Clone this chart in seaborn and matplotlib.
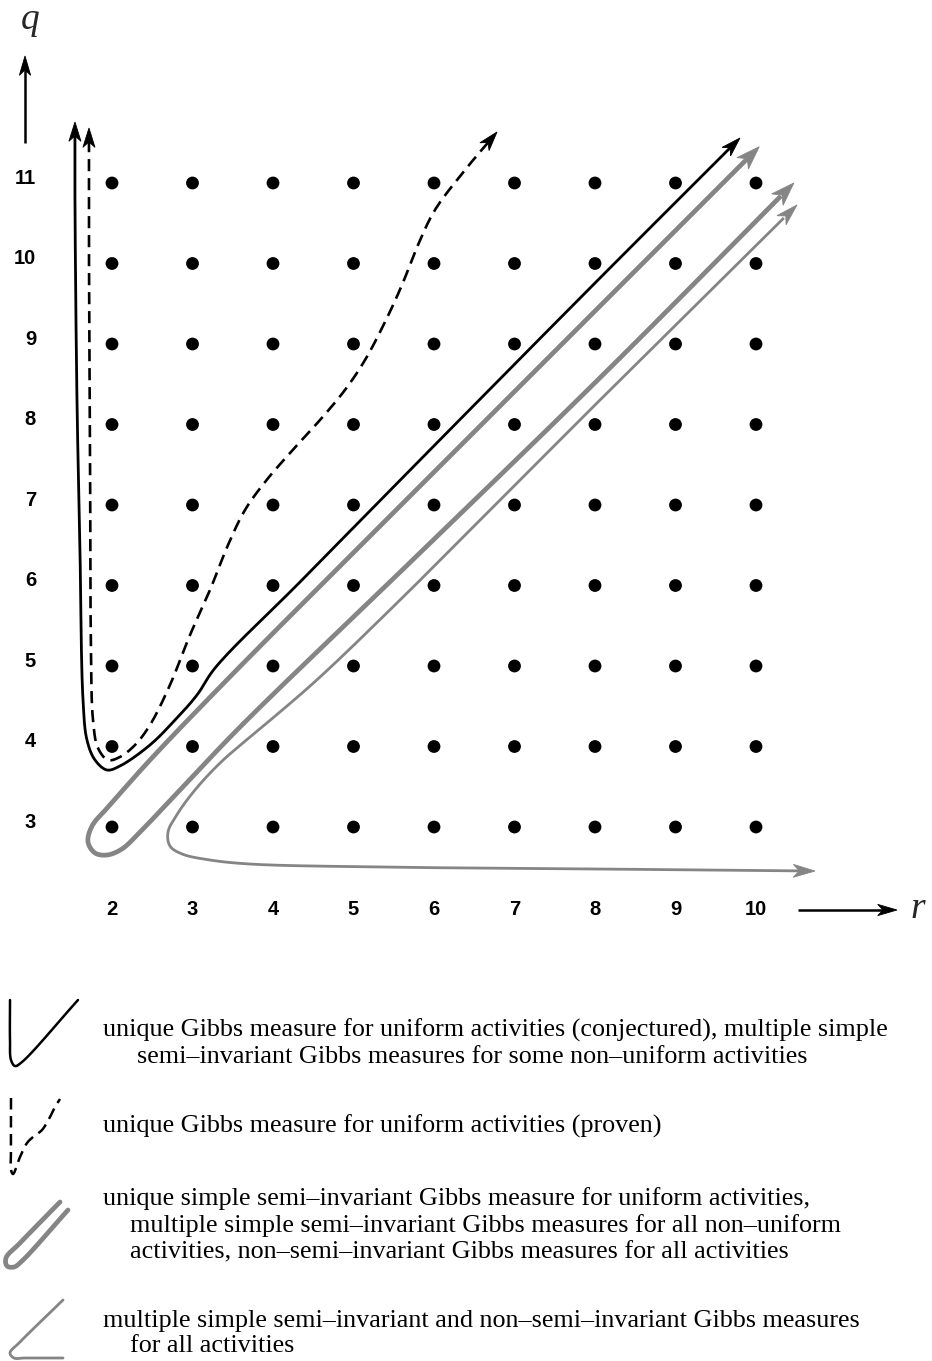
import numpy as np
import pandas as pd
import matplotlib
matplotlib.use("Agg")
import matplotlib.pyplot as plt
from matplotlib.patches import Polygon
import seaborn as sns

# ---------------- data ----------------
r_values = [2, 3, 4, 5, 6, 7, 8, 9, 10]
q_values = [3, 4, 5, 6, 7, 8, 9, 10, 11]
r_tick_labels = ["2", "3", "4", "5", "6", "7", "8", "9", "10"]
q_tick_labels = ["3", "4", "5", "6", "7", "8", "9", "10", "11"]

# region boundaries in (r, q) units
conjectured_r = [1.54, 1.54, 1.565, 1.602, 1.64, 1.689, 1.789, 1.938, 2.099, 2.472, 2.783,
                 3.056, 3.28, 4.335, 5.826, 8.062, 9.801]
conjectured_q = [11.758, 10.789, 8.304, 6.441, 4.578, 4.081, 3.832, 3.708, 3.758, 4.019, 4.329,
                 4.64, 4.975, 6.043, 7.559, 9.82, 11.559]

proven_r = [1.714, 1.714, 1.727, 1.739, 1.764, 1.826, 1.95, 2.099, 2.286, 2.472, 2.72, 2.969,
            3.217, 3.441, 3.652, 3.901, 4.211, 4.584, 4.894, 5.143, 5.391, 5.602, 5.801,
            6.012, 6.385, 6.783]
proven_q = [11.683, 10.168, 7.683, 5.199, 4.329, 3.981, 3.832, 3.87, 4.019, 4.267, 4.764,
            5.385, 5.944, 6.503, 6.938, 7.286, 7.646, 8.056, 8.429, 8.801, 9.273, 9.733,
            10.23, 10.665, 11.161, 11.634]

simple_r = [10.04, 8.06, 5.58, 3.43, 2.47, 1.975, 1.752, 1.702, 1.789, 1.938, 2.124, 2.348,
            2.845, 3.59, 5.58, 8.06, 10.47]
simple_q = [11.45, 9.47, 6.99, 4.83, 3.83, 3.273, 3.012, 2.814, 2.677, 2.652, 2.727, 2.938,
            3.46, 4.242, 6.168, 8.578, 11.0]

multiple_r = [10.509, 8.062, 5.578, 4.584, 4.087, 3.714, 3.342, 3.031, 2.82, 2.696, 2.72,
              2.87, 3.217, 3.714, 5.329, 8.062, 10.733]
multiple_q = [10.727, 8.304, 5.82, 4.863, 4.429, 4.118, 3.795, 3.46, 3.174, 2.938, 2.764,
              2.665, 2.59, 2.54, 2.503, 2.478, 2.453]

legend_texts = [
    ["unique Gibbs measure for uniform activities (conjectured), multiple simple",
     "semi\u2013invariant Gibbs measures for some non\u2013uniform activities"],
    ["unique Gibbs measure for uniform activities (proven)"],
    ["unique simple semi\u2013invariant Gibbs measure for uniform activities,",
     "multiple simple semi\u2013invariant Gibbs measures for all non\u2013uniform",
     "activities, non\u2013semi\u2013invariant Gibbs measures for all activities"],
    ["multiple simple semi\u2013invariant and non\u2013semi\u2013invariant Gibbs measures",
     "for all activities"],
]

# ---------------- layout ----------------
W_PX, H_PX = 932, 1361
PX = 80.5          # pixels per unit
X0, Y0 = 112, 183  # pixel of (r=2, q=11)


def P(px, py):
    return (2 + (px - X0) / PX, 11 - (py - Y0) / PX)


sns.set_theme(style="white")
plt.rcParams["font.family"] = ["Liberation Sans", "DejaVu Sans"]

fig = plt.figure(figsize=(W_PX / 100, H_PX / 100), dpi=100)
ax = fig.add_axes([0, 0, 1, 1])
xa, ya = P(0, 0)
xb, yb = P(W_PX, H_PX)
ax.set_xlim(xa, xb)
ax.set_ylim(yb, ya)
ax.axis("off")


def catmull_rom(pts, n=30, alpha=0.5):
    pts = np.asarray(pts, dtype=float)
    p = np.vstack([2 * pts[0] - pts[1], pts, 2 * pts[-1] - pts[-2]])
    out = []
    for i in range(len(p) - 3):
        p0, p1, p2, p3 = p[i:i + 4]
        t0 = 0.0
        t1 = t0 + np.linalg.norm(p1 - p0) ** alpha
        t2 = t1 + np.linalg.norm(p2 - p1) ** alpha
        t3 = t2 + np.linalg.norm(p3 - p2) ** alpha
        t = np.linspace(t1, t2, n, endpoint=False)[:, None]
        A1 = (t1 - t) / (t1 - t0) * p0 + (t - t0) / (t1 - t0) * p1
        A2 = (t2 - t) / (t2 - t1) * p1 + (t - t1) / (t2 - t1) * p2
        A3 = (t3 - t) / (t3 - t2) * p2 + (t - t2) / (t3 - t2) * p3
        B1 = (t2 - t) / (t2 - t0) * A1 + (t - t0) / (t2 - t0) * A2
        B2 = (t3 - t) / (t3 - t1) * A2 + (t - t1) / (t3 - t1) * A3
        out.append((t2 - t) / (t2 - t1) * B1 + (t - t1) / (t2 - t1) * B2)
    out.append(pts[-1:])
    return np.vstack(out)


def head(tip, prev, color, L, W, z=4):
    tip = np.asarray(tip, float)
    d = tip - np.asarray(prev, float)
    d /= np.linalg.norm(d)
    n = np.array([-d[1], d[0]])
    base = tip - d * L
    notch = tip - d * L * 0.72
    ax.add_patch(Polygon([tip, base + n * W, notch, base - n * W], closed=True,
                         fc=color, ec=color, lw=0.6, zorder=z, joinstyle="miter"))


def trim(curve, dist):
    tipA, tipB = curve[0], curve[-1]
    keep = (np.linalg.norm(curve - tipA, axis=1) > dist) & (np.linalg.norm(curve - tipB, axis=1) > dist)
    return curve[keep]


def boundary(rs, qs, color, lw, ls, L, W):
    c = catmull_rom(np.column_stack([rs, qs]))
    core = trim(c, L * 0.6)
    ax.plot(core[:, 0], core[:, 1], color=color, lw=lw, ls=ls, solid_capstyle="butt",
            dash_capstyle="butt", zorder=2)
    for tip, ref in ((c[0], c[0 + 12]), (c[-1], c[-13])):
        head(tip, ref, color, L, W)


GRAY = "#858585"
DASH = (0, (4.6, 2.6))
boundary(conjectured_r, conjectured_q, "black", 2.0, "-", 0.24, 0.075)
boundary(proven_r, proven_q, "black", 1.9, DASH, 0.24, 0.075)
boundary(simple_r, simple_q, GRAY, 3.4, "-", 0.29, 0.1)
boundary(multiple_r, multiple_q, GRAY, 2.0, "-", 0.27, 0.08)

# grid of lattice points
grid = pd.DataFrame([(r, q) for r in r_values for q in q_values], columns=["r", "q"])
sns.scatterplot(data=grid, x="r", y="q", color="black", s=85, linewidth=0,
                edgecolor="none", zorder=5, ax=ax, legend=False)

# tick labels
for r, lab in zip(r_values, r_tick_labels):
    ax.text(r, P(0, 910)[1], lab, ha="center", va="center", fontsize=14.5,
            fontweight="bold", color="black")
for q, lab in zip(q_values, q_tick_labels):
    ax.text(P(36, 0)[0], q + 0.06, lab, ha="right", va="center", fontsize=14.5,
            fontweight="bold", color="black")

# axis arrows
ax.plot(*zip(P(25, 143), P(25, 70)), color="black", lw=1.8, solid_capstyle="butt")
head(P(25, 56), P(25, 100), "black", 0.24, 0.07)
ax.plot(*zip(P(798, 910), P(884, 910)), color="black", lw=1.8, solid_capstyle="butt")
head(P(897, 910), P(850, 910), "black", 0.24, 0.07)
serif = ["Liberation Serif", "DejaVu Serif"]
ax.text(*P(30, 29), "q", family=serif, style="italic", fontsize=27, ha="center",
        va="baseline")
ax.text(*P(918, 918), "r", family=serif, style="italic", fontsize=27, ha="center",
        va="baseline")

# legend glyphs
g1 = catmull_rom([P(10, 1000), P(10, 1040), P(11, 1060), P(15, 1066), P(22, 1062),
                  P(78, 1000)], n=20)
ax.plot(g1[:, 0], g1[:, 1], color="black", lw=1.8)
g2 = catmull_rom([P(11, 1098), P(11, 1150), P(11, 1170), P(13, 1174), P(20, 1157),
                  P(27, 1143), P(33, 1137), P(42, 1130), P(50, 1117), P(55, 1107),
                  P(60, 1099)], n=20)
ax.plot(g2[:, 0], g2[:, 1], color="black", lw=1.8, ls=DASH, dash_capstyle="butt")
g3 = catmull_rom([P(60, 1202), P(20, 1243), P(6, 1258), P(7, 1266), P(14, 1267),
                  P(22, 1261), P(68, 1210)], n=20)
ax.plot(g3[:, 0], g3[:, 1], color=GRAY, lw=3.4)
g4 = catmull_rom([P(63, 1300), P(20, 1342), P(10, 1353), P(14, 1358), P(25, 1358),
                  P(63, 1358)], n=20)
ax.plot(g4[:, 0], g4[:, 1], color=GRAY, lw=2.0)

# legend text
legend_pos = [[(103, 1037), (137, 1063)],
              [(103, 1133)],
              [(103, 1205), (130, 1232), (130, 1258)],
              [(103, 1327), (130, 1352)]]
for lines, poss in zip(legend_texts, legend_pos):
    for line, (px, py) in zip(lines, poss):
        ax.text(*P(px, py), line, family=serif, fontsize=18.8, ha="left",
                va="baseline", color="black")

fig.savefig("out.png", dpi=100)
